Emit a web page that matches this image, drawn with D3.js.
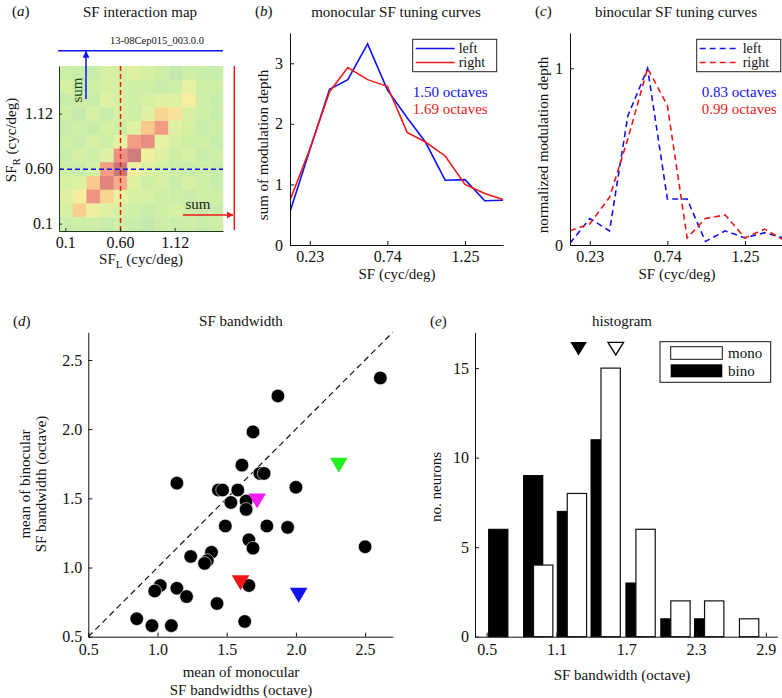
<!DOCTYPE html>
<html>
<head>
<meta charset="utf-8">
<script src="https://cdn.jsdelivr.net/npm/d3@7"></script>
<style>
  body { margin: 0; background: #fff; }
  svg text { font-family: "Liberation Serif", "Times New Roman", serif; fill: #111; }
</style>
</head>
<body>
<svg id="fig" width="782" height="698"></svg>
<script>
// ---------- data ----------
const sfSteps = [0.10, 0.23, 0.36, 0.48, 0.61, 0.74, 0.87, 0.99, 1.12, 1.25, 1.38, 1.50];
const mapTickIdx = [0, 4, 8];
const mapTickLabels = ["0.1", "0.60", "1.12"];
const curveTicks = [0.23, 0.74, 1.25];

// interaction map, rows from highest SF_R (top) down to lowest
const mapRows = [
  [0.20, 0.15, 0.15, 0.25, 0.25, 0.30, 0.25, 0.20, 0.10, 0.20, 0.15, 0.15],
  [0.25, 0.15, 0.20, 0.25, 0.25, 0.20, 0.20, 0.15, 0.20, 0.35, 0.20, 0.20],
  [0.15, 0.20, 0.15, 0.30, 0.25, 0.20, 0.25, 0.30, 0.30, 0.45, 0.20, 0.15],
  [0.20, 0.10, 0.25, 0.15, 0.25, 0.20, 0.30, 0.55, 0.50, 0.25, 0.20, 0.15],
  [0.15, 0.20, 0.15, 0.25, 0.20, 0.30, 0.60, 0.75, 0.30, 0.25, 0.15, 0.20],
  [0.20, 0.15, 0.25, 0.20, 0.35, 0.75, 0.85, 0.35, 0.25, 0.20, 0.20, 0.15],
  [0.15, 0.25, 0.20, 0.30, 0.82, 0.97, 0.40, 0.30, 0.20, 0.25, 0.15, 0.20],
  [0.20, 0.15, 0.25, 0.75, 1.00, 0.40, 0.30, 0.25, 0.20, 0.15, 0.20, 0.15],
  [0.25, 0.30, 0.60, 0.90, 0.70, 0.30, 0.20, 0.25, 0.15, 0.25, 0.20, 0.15],
  [0.30, 0.45, 0.80, 0.55, 0.35, 0.25, 0.25, 0.20, 0.20, 0.15, 0.20, 0.20],
  [0.25, 0.58, 0.40, 0.30, 0.25, 0.20, 0.15, 0.20, 0.25, 0.20, 0.15, 0.15],
  [0.15, 0.20, 0.20, 0.15, 0.20, 0.15, 0.10, 0.20, 0.15, 0.20, 0.15, 0.20]
];

// monocular tuning (sum of modulation depth)
const monoLeft  = [0.55, 1.57, 2.57, 2.73, 3.32, 2.56, 2.10, 1.70, 1.07, 1.08, 0.73, 0.74];
const monoRight = [0.74, 1.58, 2.53, 2.93, 2.73, 2.62, 1.86, 1.70, 1.47, 1.00, 0.85, 0.75];
const monoOct = ["1.50 octaves", "1.69 octaves"];

// binocular tuning (normalized)
const binoLeft  = [0.01, 0.15, 0.08, 0.73, 1.00, 0.26, 0.26, 0.02, 0.08, 0.04, 0.07, 0.04];
const binoRight = [0.08, 0.12, 0.27, 0.60, 1.00, 0.79, 0.04, 0.15, 0.17, 0.04, 0.09, 0.03];
const binoOct = ["0.83 octaves", "0.99 octaves"];

// bandwidth scatter
const monoBw = [2.61, 1.87, 1.69, 1.61, 1.74, 1.77, 1.14, 2.00, 1.44, 1.47, 1.58, 1.53, 1.64, 1.64, 1.49, 1.79, 1.94,
                1.66, 1.69, 2.50, 1.24, 1.39, 1.36, 1.34, 1.02, 0.98, 1.14, 1.21, 1.66, 1.43, 0.85, 0.96, 1.10, 1.63];
const binoBw = [2.37, 2.24, 1.98, 1.74, 1.68, 1.68, 1.61, 1.58, 1.56, 1.56, 1.56, 1.47, 1.48, 1.42, 1.30, 1.30, 1.29,
                1.20, 1.14, 1.15, 1.08, 1.11, 1.05, 1.03, 0.87, 0.83, 0.85, 0.79, 0.87, 0.74, 0.63, 0.58, 0.58, 0.61];
const markX = [1.60, 1.72, 2.31, 2.02];
const markY = [0.89, 1.48, 1.74, 0.80];
const markColors = ["#f01414", "#f41cf4", "#22ee22", "#1010f0"];

// histogram
const binCenters = [0.60, 0.90, 1.19, 1.48, 1.78, 2.08, 2.37, 2.67];
const binoCounts = [6, 9, 7, 11, 3, 1, 1, 0];
const monoCounts = [0, 4, 8, 15, 6, 2, 2, 1];
const histMeans = [1.29, 1.61]; // bino, mono

const blue = "#1212ee", red = "#ee1818";
const svg = d3.select("#fig");

function label(x, y, s, size, anchor = "middle", rot = 0) {
  const t = svg.append("text")
    .attr("x", x).attr("y", y)
    .attr("font-size", size)
    .attr("text-anchor", anchor)
    .text(s);
  if (rot) t.attr("transform", `rotate(${rot} ${x} ${y})`);
  return t;
}
function panelTag(x, y, letter) {
  const t = svg.append("text").attr("x", x).attr("y", y).attr("font-size", 15);
  t.append("tspan").text("(");
  t.append("tspan").attr("font-style", "italic").text(letter);
  t.append("tspan").text(")");
}
function styleAxis(g, color = "#111") {
  g.attr("font-family", '"Liberation Serif","Times New Roman",serif');
  g.selectAll("path.domain").attr("stroke", color).attr("stroke-width", 1);
  g.selectAll(".tick line").attr("stroke", color);
  g.selectAll(".tick text").attr("font-size", 16).attr("fill", "#111");
}

// ---------- (a) interaction map ----------
{
  const x = d3.scaleBand().domain(d3.range(12)).range([59, 223]);
  const y = d3.scaleBand().domain(d3.range(12)).range([231, 66]);
  const color = d3.scaleLinear()
    .domain([0, 0.2, 0.35, 0.45, 0.6, 0.75, 0.9, 1])
    .range(["#b8e4b6", "#cdeea4", "#e6f2a2", "#f6ee9c", "#f8c98c", "#f29c84", "#e3857f", "#c77a78"]);

  const cells = [];
  mapRows.forEach((row, r) => row.forEach((v, c) => cells.push({ r: 11 - r, c, v })));
  svg.append("g").selectAll("rect").data(cells).join("rect")
    .attr("x", d => x(d.c)).attr("y", d => y(d.r))
    .attr("width", x.bandwidth() + 0.3).attr("height", y.bandwidth() + 0.3)
    .attr("fill", d => color(d.v));

  const cx = x(4) + x.bandwidth() / 2, cy = y(4) + y.bandwidth() / 2;
  svg.append("line").attr("x1", cx).attr("x2", cx).attr("y1", 66).attr("y2", 231)
    .attr("stroke", red).attr("stroke-width", 1.5).attr("stroke-dasharray", "5,3");
  svg.append("line").attr("x1", 59).attr("x2", 223).attr("y1", cy).attr("y2", cy)
    .attr("stroke", blue).attr("stroke-width", 1.5).attr("stroke-dasharray", "5,3");

  const axCol = "#1f3a1f";
  const gy = svg.append("g").attr("transform", "translate(59,0)")
    .call(d3.axisLeft(y).tickValues(mapTickIdx).tickFormat((d, i) => mapTickLabels[i])
      .tickSizeInner(-3).tickSizeOuter(0).tickPadding(6));
  const gx = svg.append("g").attr("transform", "translate(0,231)")
    .call(d3.axisBottom(x).tickValues(mapTickIdx).tickFormat((d, i) => mapTickLabels[i])
      .tickSizeInner(-3).tickSizeOuter(0).tickPadding(6));
  styleAxis(gy, axCol); styleAxis(gx, axCol);

  // summation markers
  const defs = svg.append("defs");
  [["arrBlue", blue], ["arrRed", red]].forEach(([id, col]) => {
    defs.append("marker").attr("id", id).attr("viewBox", "0 0 10 10")
      .attr("refX", 9).attr("refY", 5).attr("markerWidth", 7).attr("markerHeight", 7)
      .attr("orient", "auto").attr("markerUnits", "userSpaceOnUse")
      .append("path").attr("d", "M0,0 L10,5 L0,10 z").attr("fill", col);
  });
  svg.append("line").attr("x1", 58).attr("x2", 223).attr("y1", 50.7).attr("y2", 50.7)
    .attr("stroke", blue).attr("stroke-width", 1.5);
  svg.append("line").attr("x1", 86).attr("x2", 86).attr("y1", 99).attr("y2", 51.5)
    .attr("stroke", blue).attr("stroke-width", 1.5).attr("marker-end", "url(#arrBlue)");
  svg.append("line").attr("x1", 234.3).attr("x2", 234.3).attr("y1", 66).attr("y2", 230)
    .attr("stroke", red).attr("stroke-width", 1.5);
  svg.append("line").attr("x1", 183).attr("x2", 233).attr("y1", 215).attr("y2", 215)
    .attr("stroke", red).attr("stroke-width", 1.5).attr("marker-end", "url(#arrRed)");
  label(82, 90, "sum", 15, "middle", -90).style("fill", "#24401f");
  label(198, 209, "sum", 15).style("fill", "#222");
  label(157, 44, "13-08Cep015_003.0.0", 10.5);

  panelTag(12, 16, "a");
  label(140, 17, "SF interaction map", 15);
  const yl = svg.append("text").attr("x", 16).attr("y", 140).attr("font-size", 15)
    .attr("text-anchor", "middle").attr("transform", "rotate(-90 16 140)");
  yl.append("tspan").text("SF");
  yl.append("tspan").attr("font-size", 11).attr("dy", 4).text("R");
  yl.append("tspan").attr("dy", -4).text(" (cyc/deg)");
  const xl = svg.append("text").attr("x", 141).attr("y", 264).attr("font-size", 15)
    .attr("text-anchor", "middle");
  xl.append("tspan").text("SF");
  xl.append("tspan").attr("font-size", 11).attr("dy", 4).text("L");
  xl.append("tspan").attr("dy", -4).text(" (cyc/deg)");
}

// ---------- (b) & (c) tuning curves ----------
function tuningPanel(opt) {
  const x = d3.scaleLinear().domain([sfSteps[0], sfSteps[11]]).range([opt.left, opt.left + 213]);
  const y = d3.scaleLinear().domain([0, opt.ymax]).range([245, 33]);
  const line = d3.line().x((d, i) => x(sfSteps[i])).y(d => y(d));
  const clip = "clip" + opt.tag;
  svg.append("clipPath").attr("id", clip).append("rect")
    .attr("x", opt.left).attr("y", 20).attr("width", 214).attr("height", 230);

  [[opt.left0, blue], [opt.right0, red]].forEach(([vals, col]) => {
    svg.append("path").datum(vals).attr("d", line)
      .attr("fill", "none").attr("stroke", col).attr("stroke-width", 1.6)
      .attr("stroke-dasharray", opt.dash || null).attr("clip-path", `url(#${clip})`);
  });

  const gy = svg.append("g").attr("transform", `translate(${opt.left},0)`)
    .call(d3.axisLeft(y).tickValues(opt.yTicks).tickFormat(d3.format("d"))
      .tickSizeInner(-4).tickSizeOuter(0).tickPadding(7));
  const gx = svg.append("g").attr("transform", "translate(0,245)")
    .call(d3.axisBottom(x).tickValues(curveTicks).tickFormat(d3.format(".2f"))
      .tickSizeInner(-4).tickSizeOuter(0).tickPadding(6));
  styleAxis(gy); styleAxis(gx);

  // legend
  const lx = opt.left + opt.legDx;
  svg.append("rect").attr("x", lx).attr("y", 39.3).attr("width", 84).attr("height", 32.4)
    .attr("fill", "#fff").attr("stroke", "#222").attr("stroke-width", 1);
  [["left", blue, 48.5], ["right", red, 62.5]].forEach(([s, col, yy]) => {
    svg.append("line").attr("x1", lx + 3).attr("x2", lx + 42).attr("y1", yy).attr("y2", yy)
      .attr("stroke", col).attr("stroke-width", 1.6).attr("stroke-dasharray", opt.dash || null);
    label(lx + 46, yy + 4, s, 14, "start");
  });
  label(opt.octX, 96.5, opt.oct[0], 15, "start").style("fill", blue);
  label(opt.octX, 114, opt.oct[1], 15, "start").style("fill", red);

  panelTag(opt.tagX, 16, opt.tag);
  label(opt.left + 106, 17, opt.title, 15);
  label(opt.left - 22, 145, opt.ylabel, 15, "middle", -90);
  label(opt.left + 107, 279, "SF (cyc/deg)", 15);
}

tuningPanel({
  tag: "b", left: 290, ymax: 3.5, yTicks: [0, 1, 2, 3],
  left0: monoLeft, right0: monoRight, legDx: 122.7, octX: 412.7, oct: monoOct,
  tagX: 255, title: "monocular SF tuning curves", ylabel: "sum of modulation depth"
});
tuningPanel({
  tag: "c", left: 570, ymax: 1.2, yTicks: [0, 1], dash: "6,4",
  left0: binoLeft, right0: binoRight, legDx: 126.7, octX: 701.7, oct: binoOct,
  tagX: 535, title: "binocular SF tuning curves", ylabel: "normalized modulation depth"
});

// ---------- (d) bandwidth scatter ----------
{
  const x = d3.scaleLinear().domain([0.5, 2.7]).range([88.3, 392.8]);
  const y = d3.scaleLinear().domain([0.5, 2.7]).range([636.7, 332.3]);

  svg.append("line").attr("x1", x(0.5)).attr("y1", y(0.5)).attr("x2", x(2.7)).attr("y2", y(2.7))
    .attr("stroke", "#111").attr("stroke-width", 1.2).attr("stroke-dasharray", "6,4");

  svg.append("g").selectAll("circle").data(monoBw).join("circle")
    .attr("cx", d => x(d)).attr("cy", (d, i) => y(binoBw[i])).attr("r", 6.8)
    .attr("fill", "#000").attr("stroke", "#fff").attr("stroke-width", 0.6);

  svg.append("g").selectAll("path").data(markX).join("path")
    .attr("transform", (d, i) => `translate(${x(d)},${y(markY[i])})`)
    .attr("d", "M-8.8,-7.5 L8.8,-7.5 L0,7.5 Z")
    .attr("fill", (d, i) => markColors[i]);

  const ticks = [0.5, 1.0, 1.5, 2.0, 2.5];
  const gy = svg.append("g").attr("transform", "translate(88.3,0)")
    .call(d3.axisLeft(y).tickValues(ticks).tickFormat(d3.format(".1f"))
      .tickSizeInner(-4).tickSizeOuter(0).tickPadding(6));
  const gx = svg.append("g").attr("transform", "translate(0,636.7)")
    .call(d3.axisBottom(x).tickValues(ticks).tickFormat(d3.format(".1f"))
      .tickSizeInner(-4).tickSizeOuter(0).tickPadding(7));
  styleAxis(gy); styleAxis(gx);

  panelTag(13, 326, "d");
  label(241, 326, "SF bandwidth", 15);
  label(30, 484, "mean of binocular", 15, "middle", -90);
  label(46, 484, "SF bandwidth (octave)", 15, "middle", -90);
  label(241, 677, "mean of monocular", 15);
  label(241, 695, "SF bandwidths (octave)", 15);
}

// ---------- (e) histogram ----------
{
  const x = d3.scaleLinear().domain([0.4, 3.0]).range([475, 777.5]);
  const y = d3.scaleLinear().domain([0, 17]).range([636.7, 332.3]);
  const bw = x(0.566) - x(0.4);
  const shift = 0.086;

  svg.append("g").selectAll("rect").data(binCenters.filter((c, i) => binoCounts[i] > 0))
    .join("rect")
    .attr("x", d => x(d) - bw / 2)
    .attr("y", d => y(binoCounts[binCenters.indexOf(d)]))
    .attr("width", bw)
    .attr("height", d => y(0) - y(binoCounts[binCenters.indexOf(d)]))
    .attr("fill", "#000").attr("stroke", "#000");
  svg.append("g").selectAll("rect").data(binCenters.filter((c, i) => monoCounts[i] > 0))
    .join("rect")
    .attr("x", d => x(d + shift) - bw / 2)
    .attr("y", d => y(monoCounts[binCenters.indexOf(d)]))
    .attr("width", bw)
    .attr("height", d => y(0) - y(monoCounts[binCenters.indexOf(d)]))
    .attr("fill", "#fff").attr("stroke", "#111").attr("stroke-width", 1.2);

  // mean markers
  svg.append("path").attr("transform", `translate(${x(histMeans[0])},${y(16.1)})`)
    .attr("d", "M-8.3,-6.5 L8.3,-6.5 L0,7 Z").attr("fill", "#000");
  svg.append("path").attr("transform", `translate(${x(histMeans[1])},${y(16.1)})`)
    .attr("d", "M-7.8,-6 L7.8,-6 L0,6.5 Z").attr("fill", "#fff")
    .attr("stroke", "#000").attr("stroke-width", 1.3);

  const gy = svg.append("g").attr("transform", "translate(475,0)")
    .call(d3.axisLeft(y).tickValues([0, 5, 10, 15]).tickFormat(d3.format("d"))
      .tickSizeInner(-4).tickSizeOuter(0).tickPadding(6));
  const gx = svg.append("g").attr("transform", "translate(0,636.7)")
    .call(d3.axisBottom(x).tickValues([0.5, 1.1, 1.7, 2.3, 2.9]).tickFormat(d3.format(".1f"))
      .tickSizeInner(-4).tickSizeOuter(0).tickPadding(7));
  styleAxis(gy); styleAxis(gx);

  // legend
  svg.append("rect").attr("x", 660).attr("y", 341.7).attr("width", 110.7).attr("height", 40.6)
    .attr("fill", "#fff").attr("stroke", "#111").attr("stroke-width", 1);
  svg.append("rect").attr("x", 670.7).attr("y", 346.7).attr("width", 51.6).attr("height", 12.6)
    .attr("fill", "#fff").attr("stroke", "#111").attr("stroke-width", 1);
  svg.append("rect").attr("x", 670.7).attr("y", 364.3).attr("width", 51.6).attr("height", 13)
    .attr("fill", "#000");
  label(728, 358, "mono", 15, "start");
  label(728, 376, "bino", 15, "start");

  panelTag(430, 326, "e");
  label(622, 326, "histogram", 15);
  label(441, 487, "no. neurons", 15, "middle", -90);
  label(622, 680, "SF bandwidth (octave)", 15);
}
</script>
</body>
</html>
